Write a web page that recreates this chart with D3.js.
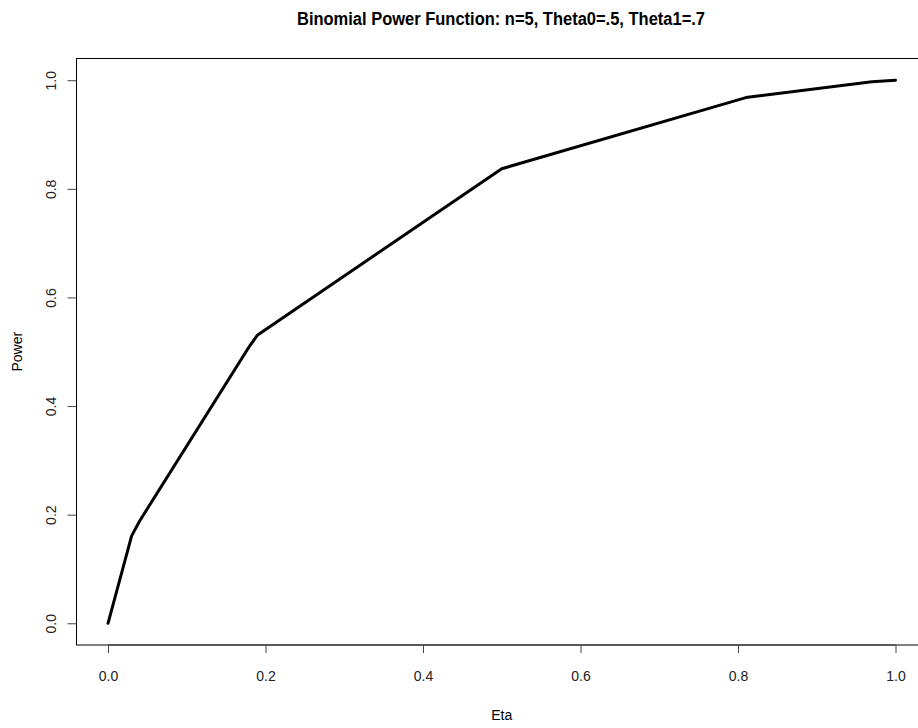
<!DOCTYPE html>
<html>
<head>
<meta charset="utf-8">
<script src="https://cdn.jsdelivr.net/npm/d3@7"></script>
<style>
  body { margin: 0; background: #fff; }
  svg { display: block; }
</style>
</head>
<body>
<div id="chart"></div>
<script>
// size (eta) of the test and its power
var eta   = [0, 0.03, 0.04, 0.18, 0.19, 0.50, 0.81, 0.82, 0.97, 0.98, 1.00];
var power = [0, 0.161, 0.188, 0.511, 0.531, 0.837, 0.968, 0.970, 0.997, 0.998, 1.000];
var xTicks = [0, 0.2, 0.4, 0.6, 0.8, 1.0];
var yTicks = [0, 0.2, 0.4, 0.6, 0.8, 1.0];

var W = 918, H = 728;
var m = {left: 76.5, top: 58.5, right: 927, bottom: 645};
var font = 'Liberation Sans, Arial, Helvetica, sans-serif';

var svg = d3.select('#chart').append('svg')
    .attr('width', W).attr('height', H);

// R style: 4% padding on each side of the data range
var x = d3.scaleLinear().domain([-0.04, 1.04]).range([m.left, m.right]);
var y = d3.scaleLinear().domain([-0.04, 1.04]).range([m.bottom, m.top]);

var pts = eta.map(function(e, i) { return [e, power[i]]; });

var line = d3.line()
    .x(function(d) { return x(d[0]); })
    .y(function(d) { return y(d[1]); });

svg.append('path')
   .datum(pts)
   .attr('d', line)
   .style('fill', 'none')
   .style('stroke', '#000')
   .style('stroke-width', 3)
   .style('stroke-linejoin', 'round')
   .style('stroke-linecap', 'round');

// box
svg.append('rect')
   .attr('x', m.left).attr('y', m.top)
   .attr('width', m.right - m.left).attr('height', m.bottom - m.top)
   .style('fill', 'none')
   .style('stroke', '#000')
   .style('stroke-width', 1);

// x axis
var xAxis = svg.append('g')
    .attr('transform', 'translate(0,' + m.bottom + ')')
    .call(d3.axisBottom(x).tickValues(xTicks).tickFormat(d3.format('.1f'))
          .tickSize(8).tickPadding(16));
xAxis.select('.domain')
     .attr('d', 'M' + x(0) + ',0H' + x(1))
     .style('stroke', '#333');
xAxis.selectAll('.tick text').attr('dy', null).attr('y', 36);

// y axis
var yAxis = svg.append('g')
    .attr('transform', 'translate(' + m.left + ',0)')
    .call(d3.axisLeft(y).tickValues(yTicks).tickFormat(d3.format('.1f'))
          .tickSize(9).tickPadding(0));
yAxis.select('.domain').remove();
yAxis.selectAll('.tick text')
     .attr('x', null).attr('dy', null)
     .attr('transform', 'translate(-21,0) rotate(-90)')
     .attr('text-anchor', 'middle');

svg.selectAll('.tick line').style('stroke', '#444');
svg.selectAll('.tick text')
   .style('font-family', font)
   .style('font-size', '14px')
   .style('fill', '#222');

// labels
svg.append('text')
   .attr('x', x(0.5)).attr('y', 720)
   .attr('text-anchor', 'middle')
   .style('font-family', font)
   .style('font-size', '14px')
   .text('Eta');

svg.append('text')
   .attr('transform', 'translate(22,' + y(0.5) + ') rotate(-90)')
   .attr('text-anchor', 'middle')
   .style('font-family', font)
   .style('font-size', '14px')
   .text('Power');

svg.append('text')
   .attr('x', 501).attr('y', 25)
   .attr('text-anchor', 'middle')
   .attr('textLength', 408)
   .attr('lengthAdjust', 'spacingAndGlyphs')
   .style('font-family', font)
   .style('font-weight', 'bold')
   .style('font-size', '18px')
   .text('Binomial Power Function: n=5, Theta0=.5, Theta1=.7');
</script>
</body>
</html>
